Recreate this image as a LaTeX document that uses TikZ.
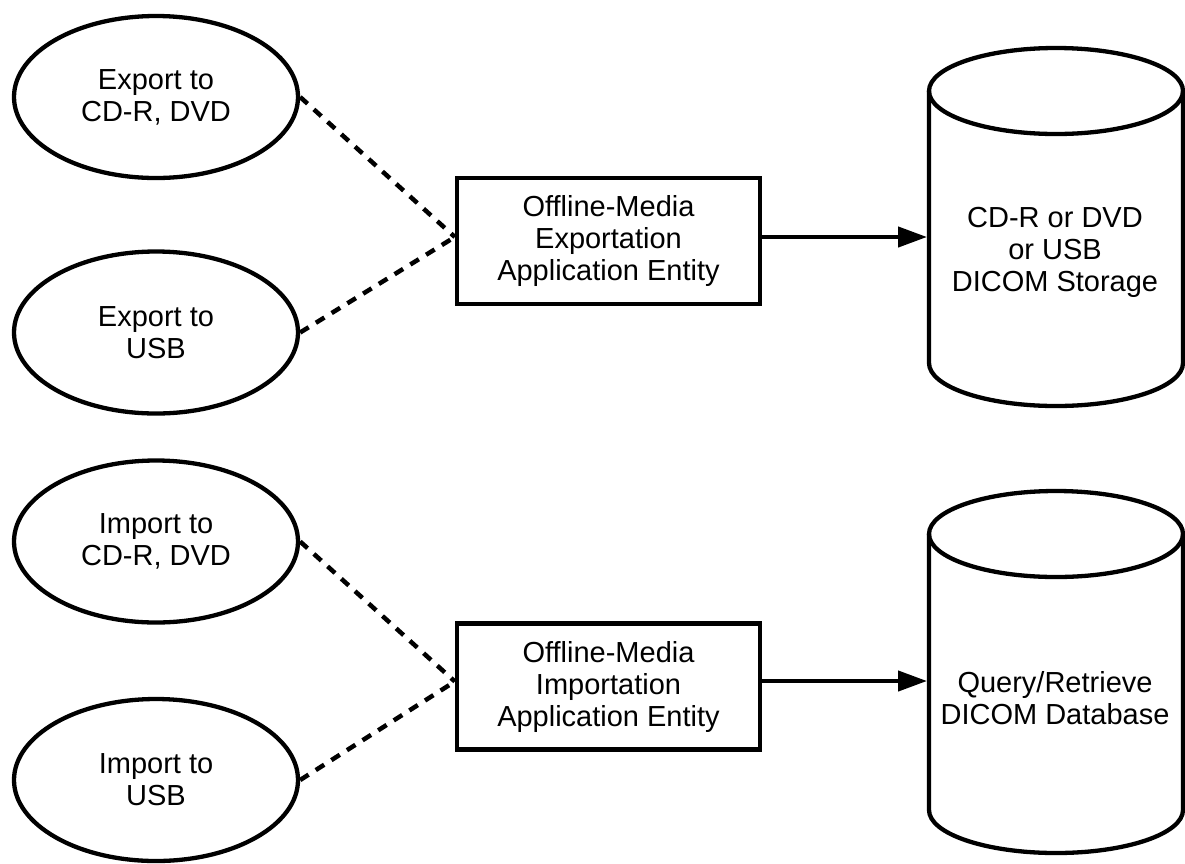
\documentclass[tikz,border=0pt]{standalone}
\usepackage{fontspec}
\setmainfont{Liberation Sans}
\usetikzlibrary{shapes.geometric,arrows.meta}
\begin{document}
\begin{tikzpicture}[x=1pt,y=-1pt,
  usecase/.style={ellipse,draw,line width=4.3pt,minimum width=284pt,minimum height=162pt,inner sep=0pt,align=center},
  entity/.style={rectangle,draw,line width=4.3pt,minimum width=303pt,minimum height=126pt,inner sep=0pt,align=center},
  link/.style={line width=4.5pt,dash pattern=on 10pt off 8.5pt},
  flow/.style={line width=4.3pt,-{Triangle[length=29pt,width=20pt]}},
  db/.style={line width=4.3pt},
  lbl/.style={align=center,inner sep=0pt},
  font=\fontsize{29}{32}\selectfont]
\useasboundingbox (0,0) rectangle (1185,863);

% use cases
\node[usecase] (e1) at (156,97) {Export to\\CD-R, DVD};
\node[usecase] (e2) at (156,332.5) {Export to\\USB};
\node[usecase] (e3) at (156,541.5) {Import to\\CD-R, DVD};
\node[usecase] (e4) at (156,780) {Import to\\USB};

% application entities
\node[entity] (b1) at (608.5,241) {Offline-Media\\Exportation\\Application Entity};
\node[entity] (b2) at (608.5,686.5) {Offline-Media\\Importation\\Application Entity};

% storage cylinders
\draw[db] (929,91) -- (929,363) arc[start angle=180,end angle=0,x radius=127,y radius=43] -- (1183,91);
\draw[db] (1056,91) ellipse[x radius=127,y radius=43];
\node[lbl] (t1) at (1055,252) {CD-R or DVD\\or USB\\DICOM Storage};

\draw[db] (929,534) -- (929,810) arc[start angle=180,end angle=0,x radius=127,y radius=43] -- (1183,534);
\draw[db] (1056,534) ellipse[x radius=127,y radius=43];
\node[lbl] (t2) at (1055,698.5) {Query/Retrieve\\DICOM Database};

\coordinate (c1) at (927,237);
\coordinate (c2) at (927,681);
\coordinate (j1) at ([yshift=4pt]b1.west);
\coordinate (j2) at ([yshift=5pt]b2.west);

% connectors
\draw[link] (e1.east) -- (j1);
\draw[link] (e2.east) -- (j1);
\draw[link] (e3.east) -- (j2);
\draw[link] (e4.east) -- (j2);
\draw[flow] (b1.east |- c1) -- (c1);
\draw[flow] (b2.east |- c2) -- (c2);
\end{tikzpicture}
\end{document}
